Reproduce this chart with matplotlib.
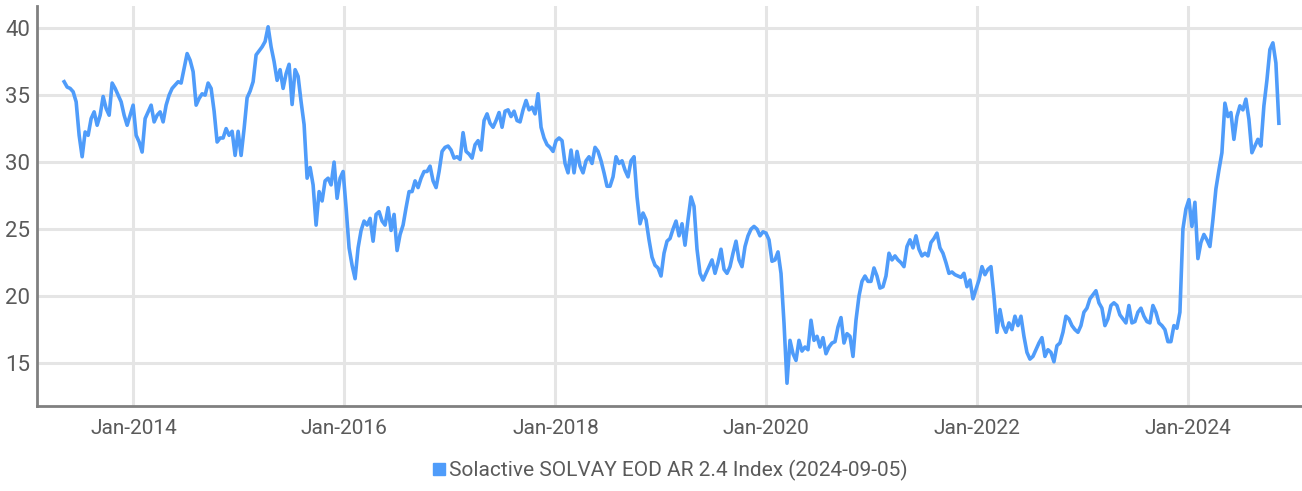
import pandas as pd
import matplotlib
matplotlib.use("Agg")
import matplotlib.pyplot as plt
import matplotlib.dates as mdates
from matplotlib.lines import Line2D

# index level, evenly spaced between the first and last day
start_date = "2013-05-06"
end_date = "2024-11-10"

vals_2013_2014 = [36.0, 35.6, 35.5, 35.25, 34.5, 32.0, 30.4, 32.25, 32.0, 33.25,
                  33.75, 32.75, 33.5, 34.9, 34.0, 33.5, 35.9, 35.5, 35.0, 34.5,
                  33.5, 32.75, 33.5, 34.25, 32.0, 31.5, 30.75, 33.25, 33.75, 34.25,
                  33.0, 33.5, 33.75, 33.0, 34.25, 35.0, 35.5, 35.75, 36.0, 35.9,
                  37.0, 38.1, 37.6, 36.75, 34.25, 34.75, 35.1, 35.0]
vals_2014_2016 = [35.9, 35.5, 33.8, 31.5, 31.8, 31.8, 32.5, 32.0, 32.3, 30.5,
                  32.3, 30.5, 32.5, 34.8, 35.3, 36.0, 38.0, 38.3, 38.6, 39.0,
                  40.1, 38.6, 37.5, 36.1, 36.9, 35.5, 36.6, 37.3, 34.3, 36.9,
                  36.4, 34.5, 32.8, 28.8, 29.6, 28.3, 25.3, 27.8, 27.1, 28.6,
                  28.8, 28.3, 30.0, 27.3, 28.8, 29.3, 26.6, 23.6, 22.3, 21.3]
vals_2016_2017 = [23.6, 24.9, 25.6, 25.3, 25.8, 24.1, 26.1, 26.3, 25.6, 25.3,
                  26.6, 24.9, 26.1, 23.4, 24.6, 25.3, 26.6, 27.8, 27.8, 28.6,
                  28.1, 28.8, 29.3, 29.3, 29.7, 28.6, 28.1, 29.3, 30.8, 31.1,
                  31.2, 30.9, 30.3, 30.4, 30.2, 32.2, 30.8, 30.6, 30.3, 31.3,
                  31.6, 30.9, 33.1, 33.6, 32.9, 32.6, 33.1, 33.7, 32.6, 33.8]
vals_2017_2018 = [33.9, 33.4, 33.8, 33.1, 33.0, 33.9, 34.6, 33.9, 34.1, 33.6,
                  35.1, 32.6, 31.8, 31.3, 31.1, 30.8, 31.6, 31.8, 31.6, 29.9,
                  29.2, 30.9, 29.2, 30.8, 29.7, 29.2, 30.1, 30.4, 29.9, 31.1,
                  30.8, 30.1, 29.2, 28.2, 28.2, 28.9, 30.4, 29.9, 30.1, 29.4,
                  28.9, 30.1, 30.4, 27.4, 25.4, 26.2, 25.7, 24.2, 22.9, 22.3]
vals_2019_2020 = [22.1, 21.5, 23.2, 24.1, 24.3, 25.0, 25.6, 24.5, 25.4, 23.8,
                  25.7, 27.4, 26.7, 23.5, 21.7, 21.2, 21.7, 22.2, 22.7, 21.7,
                  22.5, 23.5, 22.0, 21.7, 22.2, 23.2, 24.1, 22.7, 22.2, 23.7,
                  24.5, 25.0, 25.2, 25.0, 24.5, 24.8, 24.7, 24.2, 22.6, 22.7,
                  23.3, 21.7, 18.0, 13.5, 16.7, 15.7, 15.2, 16.7, 15.9, 16.2]
vals_2020_2021 = [16.0, 18.2, 16.7, 17.0, 16.2, 16.9, 15.7, 16.2, 16.5, 16.6,
                  17.7, 18.4, 16.5, 17.2, 17.0, 15.5, 18.2, 20.0, 21.1, 21.5,
                  21.1, 21.1, 22.1, 21.5, 20.6, 20.7, 21.5, 23.2, 22.7, 23.0,
                  22.7, 22.5, 22.2, 23.7, 24.2, 23.6, 24.5, 23.5, 23.0, 23.2,
                  23.0, 24.0, 24.3, 24.7, 23.6, 23.2, 22.5, 21.7, 21.8, 21.6]
vals_2021_2023 = [21.5, 21.4, 21.7, 20.7, 21.2, 19.8, 20.5, 21.2, 22.2, 21.6,
                  22.0, 22.2, 20.0, 17.3, 19.0, 17.8, 17.3, 18.0, 17.5, 18.5,
                  17.8, 18.5, 17.0, 15.8, 15.3, 15.5, 16.0, 16.5, 16.9, 15.5,
                  16.0, 15.8, 15.1, 16.3, 16.5, 17.3, 18.5, 18.3, 17.8, 17.5,
                  17.3, 17.8, 18.8, 19.1, 19.8, 20.1, 20.4, 19.5, 19.1, 17.8]
vals_2023_2024 = [18.3, 19.3, 19.5, 19.3, 18.6, 18.3, 18.0, 19.3, 18.0, 18.1,
                  18.8, 19.1, 18.5, 18.1, 18.0, 19.3, 18.8, 18.0, 17.8, 17.5,
                  16.6, 16.6, 17.8, 17.6, 18.8, 25.0, 26.5, 27.2, 25.2, 27.0,
                  22.8, 24.0, 24.6, 24.2, 23.7, 25.7, 28.0, 29.4, 30.7, 34.4,
                  33.4, 33.7, 31.7, 33.4, 34.2, 33.9, 34.7, 33.2, 30.7, 31.2,
                  31.7, 31.2, 34.2, 36.1, 38.4, 38.9, 37.4, 32.9]

series_name = "Solactive SOLVAY EOD AR 2.4 Index (2024-09-05)"
y_ticks = [15, 20, 25, 30, 35, 40]
x_tick_years = [2014, 2016, 2018, 2020, 2022, 2024]

values = (vals_2013_2014 + vals_2014_2016 + vals_2016_2017 + vals_2017_2018
          + vals_2019_2020 + vals_2020_2021 + vals_2021_2023 + vals_2023_2024)
dates = pd.date_range(start_date, end_date, periods=len(values))

line_color = '#4f9cfa'
text_color = '#5a5a5a'

plt.rcParams['font.family'] = ['Liberation Sans Narrow', 'Roboto', 'DejaVu Sans']

fig = plt.figure(figsize=(13.02, 4.91), dpi=100)
ax = fig.add_axes([37 / 1302, 1 - 406 / 491, 1 - 37 / 1302, 400 / 491])

ax.plot(dates, values, color=line_color, lw=2.6, solid_joinstyle='round')

ax.set_xlim(pd.Timestamp('2013-02-01'), pd.Timestamp('2025-01-29'))
ax.set_ylim(11.8, 41.65)
ax.set_yticks(y_ticks)
ax.set_xticks([pd.Timestamp('{}-01-01'.format(y)) for y in x_tick_years])
ax.xaxis.set_major_formatter(mdates.DateFormatter('%b-%Y'))

ax.grid(True, color='#e5e5e5', lw=2.2)
ax.set_axisbelow(True)
for s in ['top', 'right']:
    ax.spines[s].set_visible(False)
for s in ['left', 'bottom']:
    ax.spines[s].set_color('#808080')
    ax.spines[s].set_linewidth(2)

ax.tick_params(axis='both', length=0, labelcolor=text_color)
ax.tick_params(axis='y', pad=5, labelsize=16)
ax.tick_params(axis='x', pad=9, labelsize=15)

handle = Line2D([], [], marker='s', ls='none', color=line_color, markersize=8)
fig.legend([handle], [series_name], loc='center', bbox_to_anchor=(0.513, 1 - 470 / 491),
           frameon=False, fontsize=15, labelcolor=text_color,
           handletextpad=0.0, handlelength=1.0)

fig.savefig('out.png', dpi=100)
